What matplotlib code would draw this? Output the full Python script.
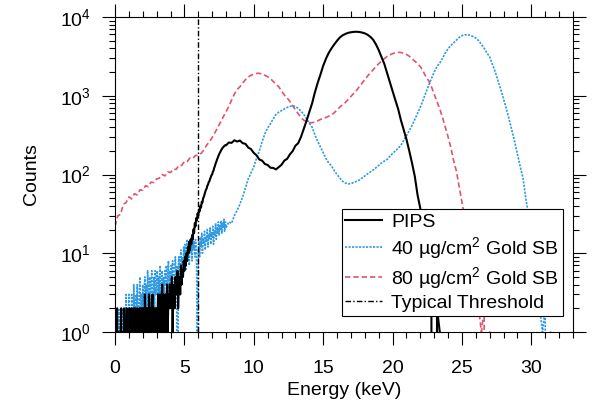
import numpy as np
import matplotlib
matplotlib.use("Agg")
import matplotlib.pyplot as plt
from matplotlib.ticker import MultipleLocator, LogLocator, NullFormatter

plt.rcParams["font.family"] = ["Liberation Sans", "DejaVu Sans"]
plt.rcParams["mathtext.fontset"] = "custom"
plt.rcParams["mathtext.rm"] = "Liberation Sans"
plt.rcParams["mathtext.it"] = "Liberation Sans:italic"
plt.rcParams["mathtext.default"] = "regular"

# Energy grids (keV): fine 0.05 keV bins below 8 keV, 0.2 keV bins above
energy_fine = np.round(np.arange(0, 7.951, 0.05), 2)
energy_coarse = np.round(np.arange(8.0, 33.01, 0.2), 1)
energy_full = np.round(np.arange(0, 33.01, 0.2), 1)

pips_low = [
    1, 0, 0, 2, 0, 1, 0, 0, 1, 2,
    0, 1, 0, 2, 0, 0, 1, 2, 0, 1,
    0, 2, 0, 1, 2, 0, 1, 2, 0, 2,
    1, 0, 2, 1, 0, 2, 1, 2, 0, 2,
    1, 2, 0, 3, 1, 2, 0, 2, 1, 3,
    2, 0, 2, 1, 3, 0, 2, 1, 2, 0,
    2, 1, 3, 0, 2, 3, 1, 2, 4, 1,
    3, 2, 0, 3, 2, 4, 1, 3, 2, 4,
    2, 3, 5, 1, 3, 4, 2, 5, 3, 4,
    6, 2, 4, 5, 3, 7, 4, 6, 5, 8,
    6, 9, 7, 10, 8, 12, 10, 14, 11, 15,
    13, 17, 15, 20, 18, 24, 22, 28, 26, 32,
    30, 36, 34, 40, 38, 45, 44, 50, 52, 56,
    60, 64, 66, 72, 74, 80, 82, 88, 92, 98,
    100, 108, 112, 122, 128, 138, 145, 155, 162, 172,
    180, 188, 195, 205, 210, 218, 222, 228, 232, 236,
]
pips_high = [
    235, 255, 252, 272, 262, 270, 250, 245, 220, 210,
    188, 175, 155, 150, 136, 132, 122, 121, 116, 124,
    133, 150, 158, 180, 198, 232, 250, 300, 380, 480,
    620, 800, 1100, 1450, 1850, 2400, 2950, 3500, 4000, 4500,
    5000, 5500, 5850, 6100, 6300, 6400, 6470, 6500, 6450, 6350,
    6200, 5950, 5600, 5150, 4500, 3800, 3100, 2550, 1950, 1500,
    1150, 880, 680, 490, 370, 280, 200, 140, 95, 55,
    37, 20, 9, 3, 2, 0, 2, 1, 0, 0,
    0, 0, 0, 0, 0, 0, 0, 0, 0, 0,
    0, 0, 0, 0, 0, 0, 0, 0, 0, 0,
    0, 0, 0, 0, 0, 0, 0, 0, 0, 0,
    0, 0, 0, 0, 0, 0, 0, 0, 0, 0,
    0, 0, 0, 0, 0, 0,
]

gold40_low = [
    0, 0, 1, 2, 0, 1, 2, 0, 1, 2,
    0, 2, 1, 0, 2, 1, 3, 0, 2, 1,
    3, 0, 2, 1, 3, 2, 0, 4, 1, 2,
    3, 1, 4, 2, 0, 3, 5, 1, 3, 2,
    4, 1, 3, 5, 2, 4, 1, 6, 3, 2,
    5, 2, 4, 6, 1, 3, 5, 2, 6, 3,
    4, 6, 2, 5, 3, 7, 2, 4, 6, 3,
    5, 2, 6, 4, 7, 3, 5, 8, 2, 6,
    4, 7, 3, 8, 5, 2, 6, 9, 4, 7,
    0, 6, 9, 4, 8, 11, 5, 9, 7, 12,
    8, 13, 6, 11, 15, 9, 12, 7, 14, 10,
    13, 8, 16, 11, 14, 9, 15, 12, 4, 0,
    10, 14, 9, 16, 12, 18, 10, 15, 13, 19,
    11, 16, 14, 20, 12, 17, 15, 21, 13, 18,
    16, 22, 13, 19, 17, 24, 15, 21, 18, 25,
    17, 23, 20, 26, 18, 24, 21, 27, 19, 25,
]
gold40_high = [
    21, 25, 24, 30, 35, 42, 52, 68, 88, 105,
    125, 160, 200, 260, 330, 390, 440, 510, 580, 620,
    650, 680, 710, 730, 745, 730, 690, 640, 580, 510,
    450, 400, 320, 265, 225, 190, 160, 140, 128, 112,
    100, 90, 82, 78, 76, 77, 79, 82, 85, 90,
    96, 102, 108, 114, 122, 130, 140, 148, 155, 170,
    185, 200, 215, 235, 270, 310, 360, 420, 500, 600,
    720, 880, 1100, 1350, 1650, 2000, 2350, 2600, 3000, 3500,
    3950, 4350, 4700, 5100, 5500, 5800, 5950, 5950, 5850, 5650,
    5400, 5000, 4500, 4000, 3500, 3100, 2500, 2000, 1550, 1200,
    900, 680, 500, 360, 260, 180, 125, 90, 50, 30,
    16, 8, 4, 2, 1, 2, 0, 1, 0, 0,
    0, 0, 0, 0, 0, 0,
]

gold80_counts = [
    22, 30, 31, 42, 44, 52, 49, 57, 55, 64,
    63, 72, 70, 80, 79, 88, 90, 100, 96, 108,
    106, 117, 116, 130, 130, 146, 146, 162, 160, 174,
    176, 185, 205, 235, 260, 295, 340, 395, 460, 540,
    630, 730, 880, 1050, 1200, 1300, 1450, 1600, 1730, 1820,
    1880, 1920, 1930, 1880, 1820, 1740, 1650, 1520, 1400, 1300,
    1150, 1020, 940, 850, 750, 660, 590, 530, 490, 470,
    455, 455, 465, 480, 500, 515, 530, 550, 570, 610,
    660, 720, 770, 820, 900, 980, 1070, 1170, 1300, 1450,
    1600, 1780, 1950, 2130, 2350, 2550, 2750, 2950, 3150, 3300,
    3420, 3520, 3560, 3540, 3460, 3350, 3180, 2950, 2750, 2550,
    2340, 2050, 1750, 1550, 1300, 1050, 850, 680, 530, 400,
    300, 220, 150, 110, 70, 45, 28, 18, 10, 6,
    3, 2, 1, 2, 0, 1, 0, 0, 0, 0,
    0, 0, 0, 0, 0, 0, 0, 0, 0, 0,
    0, 0, 0, 0, 0, 0, 0, 0, 0, 0,
    0, 0, 0, 0, 0, 0,
]

threshold_kev = 6.0

labels = ["PIPS", "40 µg/cm$^2$ Gold SB", "80 µg/cm$^2$ Gold SB", "Typical Threshold"]
colors = ["black", "#2F9AE3", "#E0546C", "black"]

pips_e = np.concatenate([energy_fine, energy_coarse])
pips_c = np.concatenate([pips_low, pips_high])
g40_e = np.concatenate([energy_fine, energy_coarse])
g40_c = np.concatenate([gold40_low, gold40_high])

fig = plt.figure(figsize=(6.0, 4.08), dpi=100)
ax = fig.add_axes([115 / 600, 1 - 332 / 408, 458 / 600, 315 / 408])

l80, = ax.plot(energy_full, gold80_counts, color=colors[2], lw=1.2,
               linestyle=(0, (3.2, 1.8)), label=labels[2])
l40, = ax.plot(g40_e, g40_c, color=colors[1], lw=1.2,
               linestyle=(0, (1.3, 0.8)), label=labels[1])
lp, = ax.plot(pips_e, pips_c, color=colors[0], lw=1.5, label=labels[0])
lt = ax.axvline(threshold_kev, color=colors[3], lw=1.0,
                linestyle=(0, (4, 1.6, 1, 1.6)), label=labels[3])

ax.set_yscale("log")
ax.set_xlim(0, 33)
ax.set_ylim(1, 1e4)

ax.xaxis.set_major_locator(MultipleLocator(5))
ax.xaxis.set_minor_locator(MultipleLocator(1))
ax.yaxis.set_major_locator(LogLocator(base=10, numticks=10))
ax.yaxis.set_minor_locator(LogLocator(base=10, subs=np.arange(2, 10), numticks=20))
ax.yaxis.set_minor_formatter(NullFormatter())

ax.tick_params(which="both", direction="out", top=True, right=True,
               width=0.8, labelsize=14)
ax.tick_params(which="major", length=9.5)
ax.tick_params(which="minor", length=4.5)
ax.tick_params(axis="x", which="major", pad=11)
ax.tick_params(axis="y", which="major", pad=8)
for s in ax.spines.values():
    s.set_linewidth(0.8)

ax.set_xlabel("Energy (keV)", fontsize=14, labelpad=3)
ax.set_ylabel("Counts", fontsize=14, labelpad=14)

leg = ax.legend(handles=[lp, l40, l80, lt], loc="lower right",
                bbox_to_anchor=(0.978, 0.051), borderaxespad=0,
                fontsize=14, frameon=True, fancybox=False,
                edgecolor="black", framealpha=1, handlelength=1.9,
                handletextpad=0.45, borderpad=0.2, labelspacing=0.2)
leg.get_frame().set_linewidth(0.8)

fig.savefig("out.png", dpi=100)
